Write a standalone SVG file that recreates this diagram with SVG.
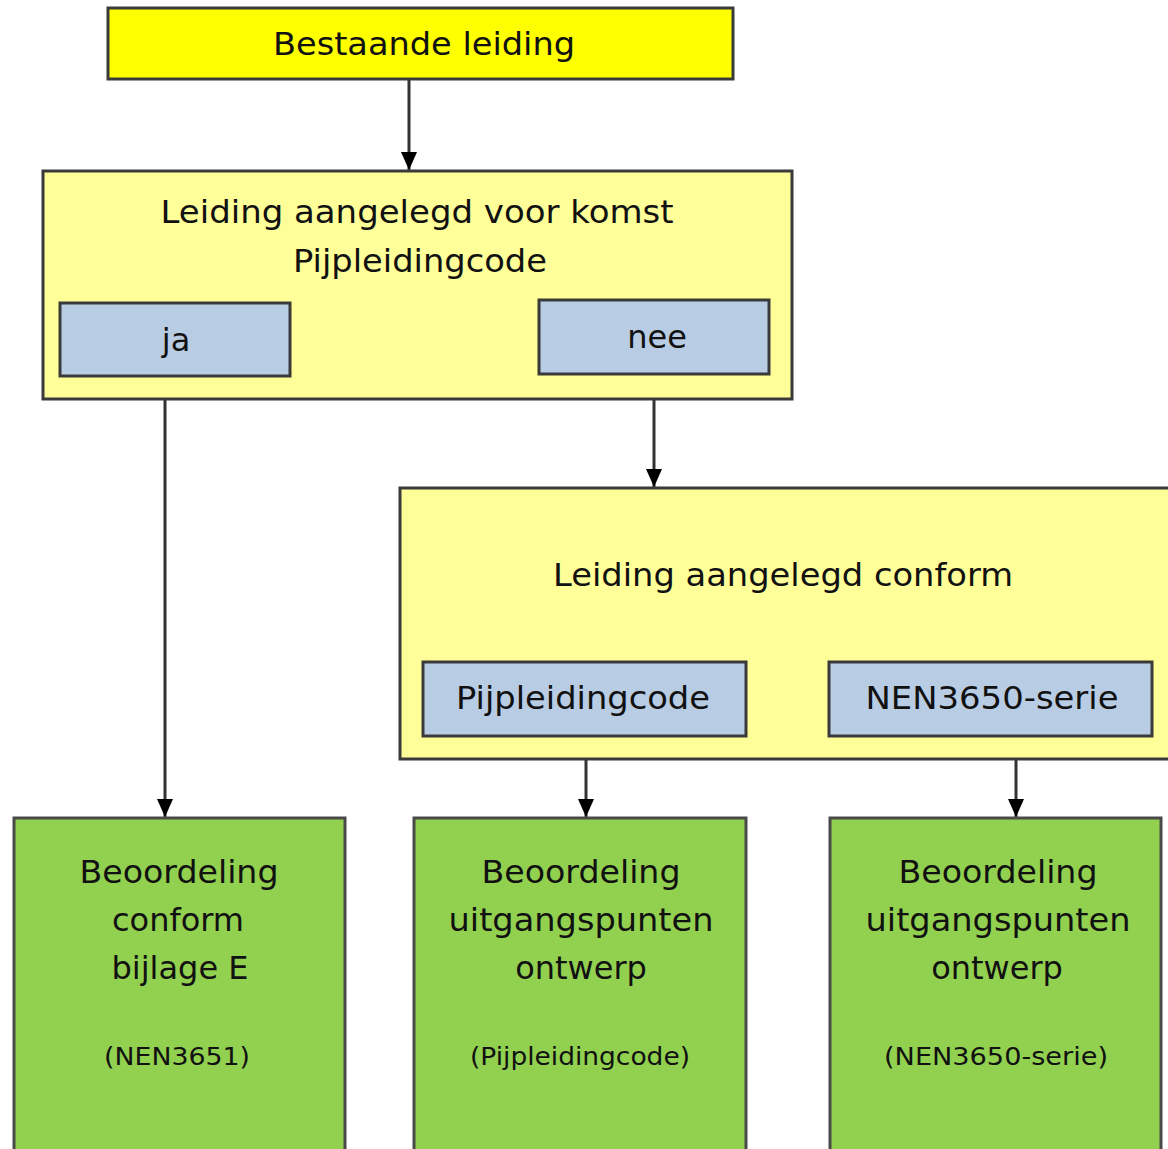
<svg xmlns="http://www.w3.org/2000/svg" width="1168" height="1149" viewBox="0 0 1168 1149">
<defs>
<style>
.box{stroke:#3a3a3a;stroke-width:3}
.y1{fill:#ffff00}
.y2{fill:#ffff99}
.bl{fill:#b8cce4}
.gr{fill:#92d050;stroke:#4a4a4a}
text{font-family:"DejaVu Sans","Liberation Sans",sans-serif;fill:#111;text-anchor:middle}
.t{font-size:32px}
.s{font-size:24px}
.c{stroke:#333;stroke-width:3;fill:none;marker-end:url(#ah)}
</style>
<marker id="ah" markerUnits="userSpaceOnUse" markerWidth="18" markerHeight="16" refX="18" refY="8" orient="auto">
<path d="M0,0 L18,8 L0,16 z" fill="#000"/>
</marker>
</defs>
<rect width="1168" height="1149" fill="#fff"/>
<g id="connectors">
<line class="c" x1="409" y1="80" x2="409" y2="170"/>
<line class="c" x1="165" y1="399" x2="165" y2="817"/>
<line class="c" x1="654" y1="400" x2="654" y2="487"/>
<line class="c" x1="586" y1="759" x2="586" y2="817"/>
<line class="c" x1="1016" y1="759" x2="1016" y2="817"/>
</g>
<g id="bestaande">
<rect class="box y1" x="108" y="8" width="625" height="71"/>
<text class="t" x="424" y="55" textLength="302" lengthAdjust="spacingAndGlyphs">Bestaande leiding</text>
</g>
<g id="voor-komst">
<rect class="box y2" x="43" y="171" width="749" height="228"/>
<text class="t" x="417" y="223" textLength="513" lengthAdjust="spacingAndGlyphs">Leiding aangelegd voor komst</text>
<text class="t" x="420" y="272" textLength="254" lengthAdjust="spacingAndGlyphs">Pijpleidingcode</text>
</g>
<g id="ja">
<rect class="box bl" x="60" y="303" width="230" height="73"/>
<text class="t" x="176" y="351">ja</text>
</g>
<g id="nee">
<rect class="box bl" x="539" y="300" width="230" height="74"/>
<text class="t" x="657" y="348">nee</text>
</g>
<g id="conform">
<rect class="box y2" x="400" y="488" width="790" height="271"/>
<text class="t" x="783" y="586" textLength="460" lengthAdjust="spacingAndGlyphs">Leiding aangelegd conform</text>
</g>
<g id="pijpleidingcode">
<rect class="box bl" x="423" y="662" width="323" height="74"/>
<text class="t" x="583" y="709" textLength="254" lengthAdjust="spacingAndGlyphs">Pijpleidingcode</text>
</g>
<g id="nen3650">
<rect class="box bl" x="829" y="662" width="323" height="74"/>
<text class="t" x="992" y="709" textLength="253" lengthAdjust="spacingAndGlyphs">NEN3650-serie</text>
</g>
<g id="beoordeling-bijlage-e">
<rect class="box gr" x="14" y="818" width="331" height="345"/>
<text class="t" x="179" y="883" textLength="199" lengthAdjust="spacingAndGlyphs">Beoordeling</text>
<text class="t" x="178" y="931">conform</text>
<text class="t" x="180" y="979">bijlage E</text>
<text class="s" x="177" y="1065" textLength="146" lengthAdjust="spacingAndGlyphs">(NEN3651)</text>
</g>
<g id="beoordeling-pijpleidingcode">
<rect class="box gr" x="414" y="818" width="332" height="345"/>
<text class="t" x="581" y="883" textLength="199" lengthAdjust="spacingAndGlyphs">Beoordeling</text>
<text class="t" x="581" y="931" textLength="265" lengthAdjust="spacingAndGlyphs">uitgangspunten</text>
<text class="t" x="581" y="979">ontwerp</text>
<text class="s" x="580" y="1065" textLength="220" lengthAdjust="spacingAndGlyphs">(Pijpleidingcode)</text>
</g>
<g id="beoordeling-nen3650">
<rect class="box gr" x="830" y="818" width="331" height="345"/>
<text class="t" x="998" y="883" textLength="199" lengthAdjust="spacingAndGlyphs">Beoordeling</text>
<text class="t" x="998" y="931" textLength="265" lengthAdjust="spacingAndGlyphs">uitgangspunten</text>
<text class="t" x="997" y="979">ontwerp</text>
<text class="s" x="996" y="1065" textLength="224" lengthAdjust="spacingAndGlyphs">(NEN3650-serie)</text>
</g>
</svg>
